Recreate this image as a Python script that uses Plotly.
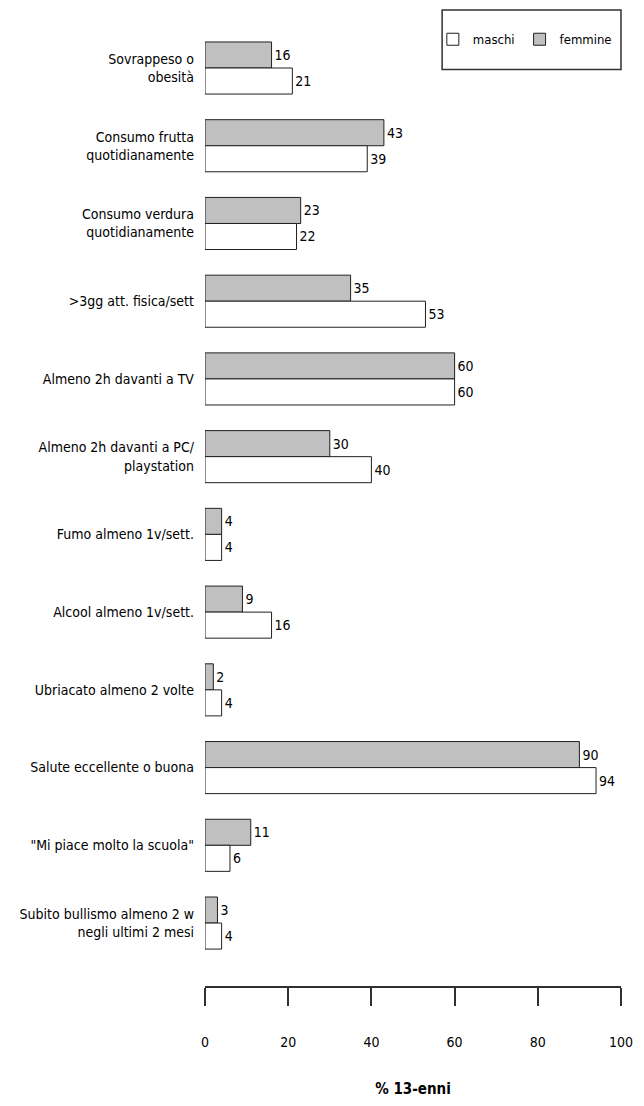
import plotly.graph_objects as go

categories = [
    "Sovrappeso o<br>obesità",
    "Consumo frutta<br>quotidianamente",
    "Consumo verdura<br>quotidianamente",
    ">3gg att. fisica/sett",
    "Almeno 2h davanti a TV",
    "Almeno 2h davanti a PC/<br>playstation",
    "Fumo almeno 1v/sett.",
    "Alcool almeno 1v/sett.",
    "Ubriacato almeno 2 volte",
    "Salute eccellente o buona",
    "\"Mi piace molto la scuola\"",
    "Subito bullismo almeno 2 w<br>negli ultimi 2 mesi",
]
femmine = [16, 43, 23, 35, 60, 30, 4, 9, 2, 90, 11, 3]
maschi = [21, 39, 22, 53, 60, 40, 4, 16, 4, 94, 6, 4]
x_ticks = [0, 20, 40, 60, 80, 100]

font_family = "DejaVu Sans Condensed, Liberation Sans Narrow, DejaVu Sans, sans-serif"
gray = "#c0c0c0"
edge = "#202020"

fig = go.Figure()

# femmine first so it sits on top within each group (reversed y axis)
fig.add_trace(go.Bar(
    y=categories, x=femmine, orientation="h", name="femmine",
    marker=dict(color=gray, line=dict(color=edge, width=1)),
    text=femmine, textposition="outside", cliponaxis=False,
    textfont=dict(size=14, color="black"), legendrank=2,
))
fig.add_trace(go.Bar(
    y=categories, x=maschi, orientation="h", name="maschi",
    marker=dict(color="white", line=dict(color=edge, width=1)),
    text=maschi, textposition="outside", cliponaxis=False,
    textfont=dict(size=14, color="black"), legendrank=1,
))

# page body has an 8px margin, so keep the figure inside the window (no scrollbars)
fig.update_layout(
    width=628, height=1090,
    barmode="group", bargap=0.33, bargroupgap=0,
    plot_bgcolor="white", paper_bgcolor="white",
    font=dict(family=font_family, size=14, color="black"),
    margin=dict(l=197, r=15, t=0, b=112, autoexpand=False),
    showlegend=True,
    legend=dict(
        orientation="h", x=0.99, y=0.968, xanchor="right", yanchor="middle",
        bgcolor="rgba(0,0,0,0)", borderwidth=0, font=dict(size=13),
        itemwidth=30,
    ),
    shapes=[dict(
        type="rect", xref="paper", yref="paper",
        x0=0.57, x1=1.0, y0=0.937, y1=0.998,
        line=dict(color="#303030", width=1.5), fillcolor="rgba(0,0,0,0)",
    )],
)

fig.update_xaxes(
    range=[0, 100], tickvals=x_ticks, showgrid=False, zeroline=False,
    showline=True, linecolor="#303030", linewidth=1.5,
    ticks="outside", ticklen=18, tickwidth=1.5, tickcolor="#303030",
    ticklabelstandoff=24, ticklabeloverflow="allow", tickfont=dict(size=14),
    title=dict(text="<b>% 13-enni</b>", standoff=37, font=dict(size=15)),
    automargin=False,
)
fig.update_yaxes(
    categoryorder="array", categoryarray=categories,
    range=[11.81, -0.772], showgrid=False, zeroline=False, showline=False,
    ticks="", ticklabelstandoff=10, automargin=False,
)

fig.write_html("out.html")
